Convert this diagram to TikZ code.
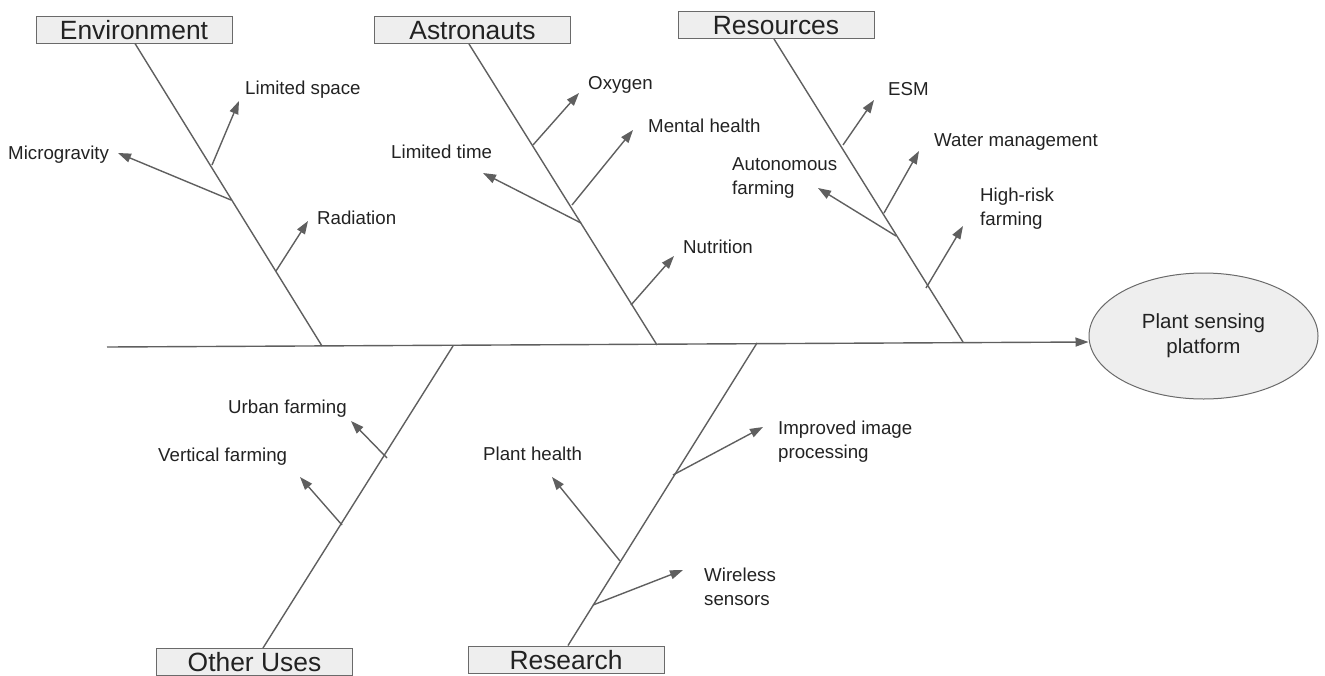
\documentclass[tikz,border=0pt]{standalone}
\usepackage{fontspec}
\setmainfont{Liberation Sans}
\usetikzlibrary{arrows.meta,shapes.geometric}
\definecolor{linegray}{HTML}{5F5F5F}
\definecolor{boxfill}{HTML}{EEEEEE}
\definecolor{boxline}{HTML}{6A6A6A}
\definecolor{txt}{HTML}{222222}
\tikzset{
  bone/.style={draw=linegray, line width=1.4pt},
  sub/.style={draw=linegray, line width=1.4pt, -{Triangle[length=13pt,width=9pt]}},
  catbox/.style={draw=boxline, fill=boxfill, line width=1pt, minimum width=196pt, minimum height=27pt,
    inner sep=0pt, text height=19pt, text depth=0pt, text=txt, font=\fontsize{26.4}{30}\selectfont},
  lbl/.style={anchor=north west, inner sep=0pt, align=left, text=txt, font=\fontsize{18.7}{24}\selectfont},
  effect/.style={ellipse, draw=boxline, fill=boxfill, line width=1pt, minimum width=229pt, minimum height=126pt,
    inner sep=0pt, align=center, text=txt, font=\fontsize{20.5}{25}\selectfont}
}
\begin{document}
\begin{tikzpicture}[x=1pt,y=-1pt]
\useasboundingbox (0,0) rectangle (1325,675);

% effect
\node[effect] (plant) at (1203.5,336) {Plant sensing\\platform};

% category boxes
\node[catbox] (env) at (134,29.5) {Environment};
\node[catbox] (ast) at (472.5,30) {Astronauts};
\node[catbox] (res) at (776,25) {Resources};
\node[catbox] (ou) at (254.5,662) {Other Uses};
\node[catbox] (rsch) at (566,659.5) {Research};

% spine
\coordinate (tail) at (107,347);
\draw[sub] (tail) -- ([yshift=-6pt]plant.west);

% bone junctions on spine
\coordinate (envj) at (322,346);
\coordinate (astj) at (657,345);
\coordinate (resj) at (963,342);
\coordinate (ouj) at (453,346);
\coordinate (rschj) at (757,343);

\draw[bone] ([xshift=1pt]env.south) -- (envj);
\draw[bone] ([xshift=-3.5pt]ast.south) -- (astj);
\draw[bone] ([xshift=-2pt]res.south) -- (resj);
\draw[bone] (ouj) -- ([xshift=8.5pt]ou.north);
\draw[bone] (rschj) -- ([xshift=2pt]rsch.north);

% labels
\node[lbl] (lspace) at (245,81) {Limited space};
\node[lbl] (micro) at (8,146) {Microgravity};
\node[lbl] (rad) at (317,211) {Radiation};
\node[lbl] (oxy) at (588,76) {Oxygen};
\node[lbl] (mental) at (648,119) {Mental health};
\node[lbl] (ltime) at (391,145) {Limited time};
\node[lbl] (nutr) at (683,240) {Nutrition};
\node[lbl] (esm) at (888,82) {ESM};
\node[lbl] (water) at (934,133) {Water management};
\node[lbl] (auto) at (732,157) {Autonomous\\farming};
\node[lbl] (hrisk) at (980,188) {High-risk\\farming};
\node[lbl] (urban) at (228,400) {Urban farming};
\node[lbl] (vert) at (158,448) {Vertical farming};
\node[lbl] (improved) at (778,421) {Improved image\\processing};
\node[lbl] (phealth) at (483,447) {Plant health};
\node[lbl] (wireless) at (704,568) {Wireless\\sensors};

% sub-cause arrows: start on bone, tip near label
\coordinate (lspaceS) at (212,165);   \coordinate (lspaceT) at (239,101);
\coordinate (microS) at (231,200);    \coordinate (microT) at (118,153);
\coordinate (radS) at (276,271);      \coordinate (radT) at (308,221);
\coordinate (oxyS) at (533,145);      \coordinate (oxyT) at (579,93);
\coordinate (mentalS) at (572,205);   \coordinate (mentalT) at (633,130);
\coordinate (ltimeS) at (581,223);    \coordinate (ltimeT) at (483,173);
\coordinate (nutrS) at (631,305);     \coordinate (nutrT) at (674,256);
\coordinate (esmS) at (843,145);      \coordinate (esmT) at (874,100);
\coordinate (waterS) at (884,213);    \coordinate (waterT) at (919,151);
\coordinate (autoS) at (896,236);     \coordinate (autoT) at (818,188);
\coordinate (hriskS) at (926,288);    \coordinate (hriskT) at (963,226);
\coordinate (urbanS) at (387,458);    \coordinate (urbanT) at (351,421);
\coordinate (vertS) at (342,525);     \coordinate (vertT) at (300,477);
\coordinate (improvedS) at (673,475); \coordinate (improvedT) at (763,427);
\coordinate (phealthS) at (620,561);  \coordinate (phealthT) at (552,477);
\coordinate (wirelessS) at (593,605); \coordinate (wirelessT) at (683,570);

\foreach \n in {lspace,micro,rad,oxy,mental,ltime,nutr,esm,water,auto,hrisk,urban,vert,improved,phealth,wireless}
  \draw[sub] (\n S) -- (\n T);
\end{tikzpicture}
\end{document}
